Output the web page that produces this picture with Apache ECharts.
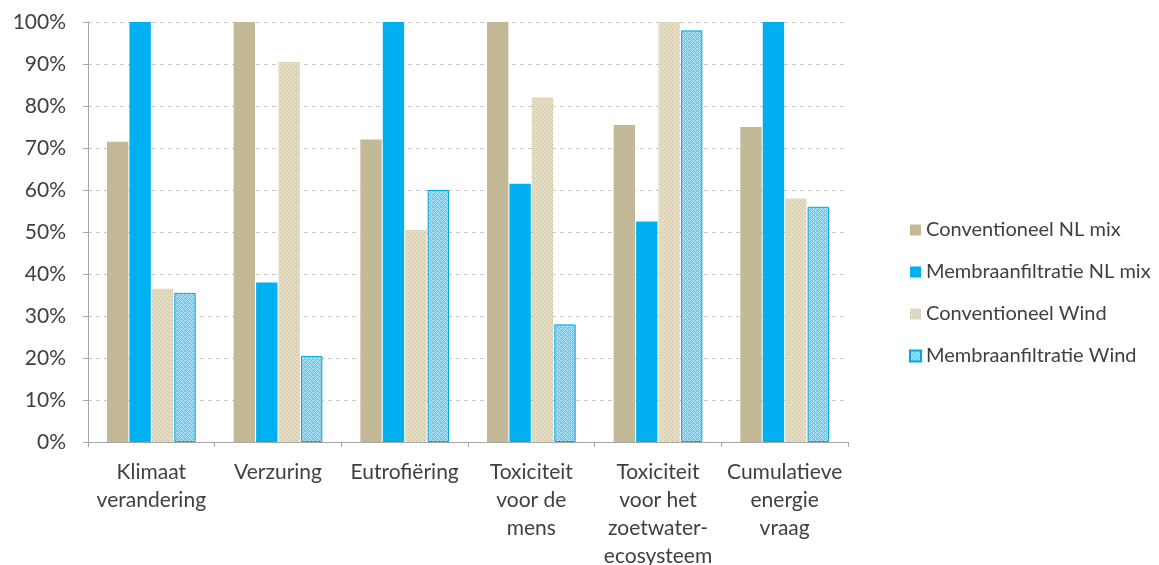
<!DOCTYPE html>
<html><head><meta charset="utf-8">
<script src="https://cdn.jsdelivr.net/npm/echarts@6/dist/echarts.min.js"></script>
<style>html,body{margin:0;padding:0;background:#fff}#c{width:1159px;height:565px}</style>
</head><body><div id="c"></div>
<script>
var categories = ['Klimaat\nverandering','Verzuring','Eutrofiëring','Toxiciteit\nvoor de\nmens','Toxiciteit\nvoor het\nzoetwater-\necosysteem','Cumulatieve\nenergie\nvraag'];
var seriesNames = ['Conventioneel NL mix','Membraanfiltratie NL mix','Conventioneel Wind','Membraanfiltratie Wind'];
var convNL  = [71.5, 100, 72, 100, 75.5, 75];
var membNL  = [100, 38, 100, 61.5, 52.5, 100];
var convWind= [36.5, 90.5, 50.5, 82, 100, 58];
var membWind= [35.5, 20.5, 60, 28, 98, 56];
var yTicks = [0,10,20,30,40,50,60,70,80,90,100];

function makePattern(bg, fg, kind){
  var c = document.createElement('canvas');
  c.width = 4; c.height = 4;
  var g = c.getContext('2d');
  g.fillStyle = bg; g.fillRect(0,0,4,4);
  g.fillStyle = fg;
  if (kind === 'dots') {
    g.fillRect(0,0,1,1); g.fillRect(2,2,1,1);
  } else {
    g.fillRect(0,3,1,1); g.fillRect(1,2,1,1); g.fillRect(2,1,1,1); g.fillRect(3,0,1,1);
    g.fillRect(0,1,1,1); g.fillRect(2,3,1,1);
  }
  return {image: c, repeat: 'repeat'};
}
var patConvWind = makePattern('#e2ddc8', '#c6bc9a', 'dots');
var patMembWind = makePattern('#a6e0f6', '#55c2ec', 'diag');

var chart = echarts.init(document.getElementById('c'), null, {renderer:'canvas'});
var font = 'Lato, "Open Sans", sans-serif';
function mk(name, data, color, border){
  return {
    name: name, type: 'bar', data: data,
    barGap: '5%', barCategoryGap: '30%',
    itemStyle: {color: color, borderColor: border || 'transparent', borderWidth: border ? 1 : 0}
  };
}
chart.setOption({
  animation: false,
  textStyle: {fontFamily: font},
  grid: {left: 88, right: 311, top: 22, bottom: 123, containLabel: false, outerBoundsMode: 'none'},
  legend: {
    orient: 'vertical', left: 904, top: 215, itemGap: 22,
    itemWidth: 11, itemHeight: 11, icon: 'rect',
    textStyle: {fontSize: 20, color: '#404040', fontFamily: font, lineHeight: 20},
    data: seriesNames
  },
  xAxis: {
    type: 'category', data: categories,
    axisLine: {lineStyle: {color: '#a6a6a6'}},
    axisTick: {show: true, alignWithLabel: false, length: 5, lineStyle: {color: '#a6a6a6'}},
    axisLabel: {fontSize: 21, color: '#404040', margin: 16, lineHeight: 28, interval: 0, fontFamily: font}
  },
  yAxis: {
    type: 'value', min: 0, max: 100, interval: 10,
    axisLine: {show: true, lineStyle: {color: '#a6a6a6'}},
    axisTick: {show: true, length: 5, lineStyle: {color: '#a6a6a6'}},
    splitLine: {lineStyle: {color: '#c8c8c8', type: [4,4]}},
    axisLabel: {fontSize: 21, color: '#404040', margin: 22, fontFamily: font,
      formatter: function(v){ return v + '%'; }}
  },
  series: [
    mk(seriesNames[0], convNL, '#c4b996'),
    mk(seriesNames[1], membNL, '#00b0f0'),
    mk(seriesNames[2], convWind, patConvWind),
    mk(seriesNames[3], membWind, patMembWind, '#00a6e6')
  ]
});
</script></body></html>
